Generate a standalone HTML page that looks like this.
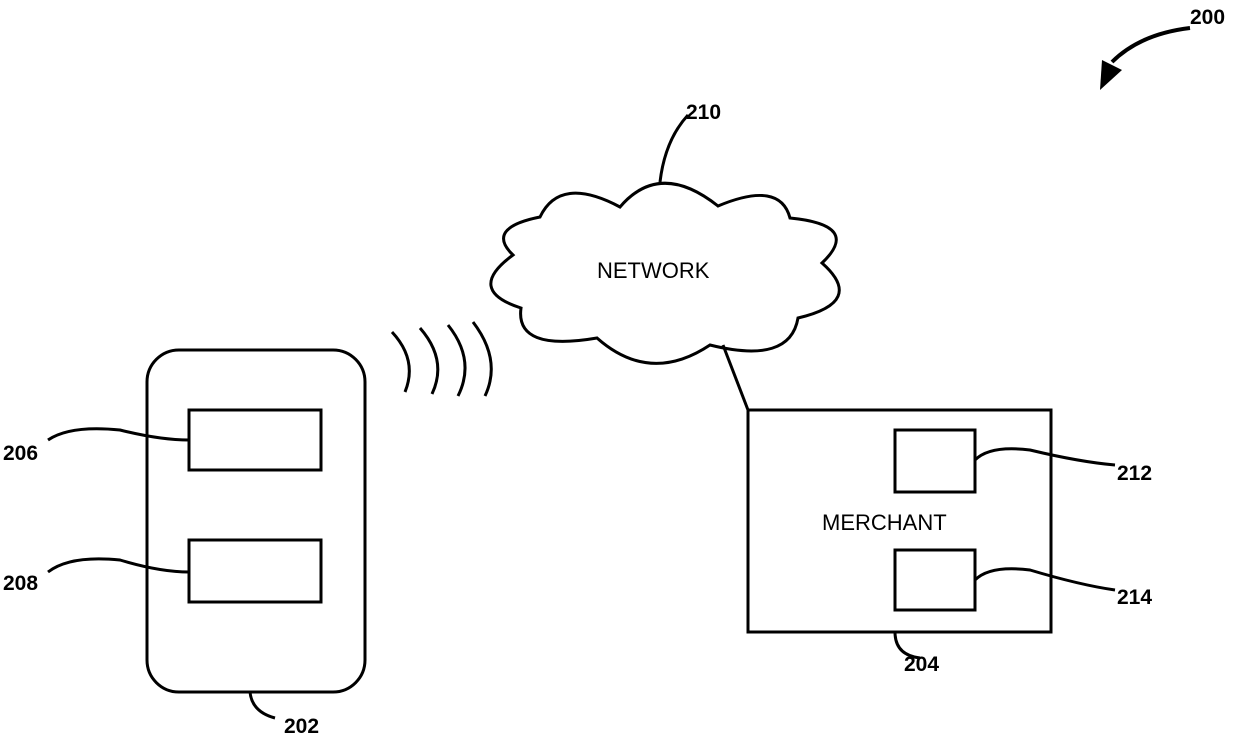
<!DOCTYPE html><html><head><style>body{margin:0;background:#fff}svg{display:block}</style></head><body>
<svg width="1239" height="739" viewBox="0 0 1239 739" xmlns="http://www.w3.org/2000/svg" font-family="Liberation Sans, sans-serif">
<g fill="none" stroke="#000" stroke-width="3">
<path d="M513,255 Q485,228 540,217 Q560,175 620,207 Q660,160 718,206 Q780,180 790,218 Q862,225 822,263 Q866,302 798,318 Q790,365 710,345 Q650,385 597,338 Q515,352 521,308 Q465,290 513,255 Z"/>
<path d="M660,182 Q665,140 688,115"/>
<path d="M723,345 L748,410"/>
<rect x="748" y="410" width="303" height="222"/>
<rect x="895" y="430" width="80" height="62"/>
<rect x="895" y="550" width="80" height="60"/>
<rect x="147" y="350" width="218" height="342" rx="32"/>
<rect x="189" y="410" width="132" height="60"/>
<rect x="189" y="540" width="132" height="62"/>
<path d="M392,332 Q418,360 405,392"/>
<path d="M420,328 Q448,360 432,394"/>
<path d="M448,325 Q476,360 458,396"/>
<path d="M473,322 Q502,360 485,396"/>
<path d="M48,440 Q70,425 120,430 Q160,440 189,440"/>
<path d="M48,572 Q70,555 120,560 Q160,572 189,572"/>
<path d="M975,460 Q990,445 1030,450 Q1080,462 1115,465"/>
<path d="M975,580 Q990,565 1030,570 Q1080,585 1115,590"/>
<path d="M250,692 Q252,712 275,718"/>
<path d="M895,632 Q895,655 920,658"/>
<path d="M1190,28 Q1140,34 1112,62" stroke-width="4"/>
</g>
<path d="M1100,90 L1102,60 L1122,70 Z" fill="#000"/>
<g font-size="21" font-weight="bold">
<text x="686" y="119">210</text>
<text x="1190" y="24">200</text>
<text x="3" y="460">206</text>
<text x="3" y="590">208</text>
<text x="1117" y="480">212</text>
<text x="1117" y="604">214</text>
<text x="904" y="671">204</text>
<text x="284" y="733">202</text>
</g>
<g font-size="22">
<text x="597" y="278">NETWORK</text>
<text x="822" y="530">MERCHANT</text>
</g>
</svg></body></html>
